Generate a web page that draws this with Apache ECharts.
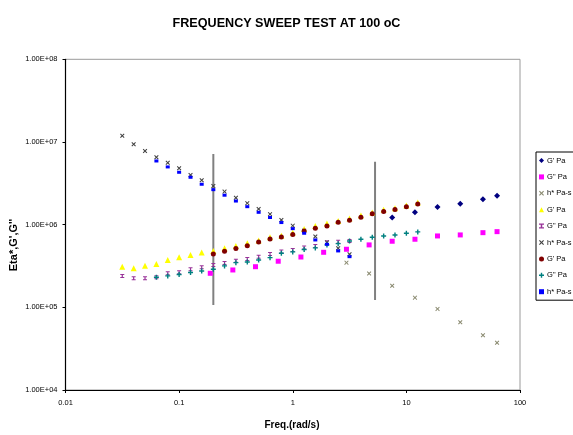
<!DOCTYPE html>
<html><head><meta charset="utf-8">
<script src="https://cdn.jsdelivr.net/npm/echarts@6/dist/echarts.min.js"></script>
<style>html,body{margin:0;padding:0;background:#fff}#c{width:573px;height:435px}</style>
</head><body><div id="c"></div>
<script>
// ---- data ----
const freqSet1 = [0.188,0.297,0.47,0.745,1.18,1.87,2.97,4.70,7.5,11.9,18.8,29.8,47.2,62.8];
const gPrime1 = [null,null,null,null,null,null,null,null,1.22e6,1.41e6,1.64e6,1.79e6,2.03e6,2.24e6];
const gDouble1 = [2.58e5,2.83e5,3.10e5,3.61e5,4.06e5,4.63e5,5.04e5,5.69e5,6.30e5,6.66e5,7.30e5,7.51e5,8.0e5,8.23e5];
const eta1 = [null,null,null,null,null,null,3.47e5,2.56e5,1.82e5,1.31e5,9.57e4,6.61e4,4.60e4,3.72e4];

const freqGrid = [0.0316,0.0398,0.0501,0.0631,0.0794,0.1,0.126,0.158,0.2,0.251,0.316,0.398,0.501,0.631,0.794,1,1.26,1.58,2,2.51,3.16,3.98,5.01,6.31,7.94,10,12.6];
const gPrime2 = [3.10e5,2.97e5,3.19e5,3.35e5,3.74e5,4.03e5,4.30e5,4.59e5,4.81e5,5.19e5,5.53e5,5.96e5,6.41e5,7.04e5,7.36e5,8.0e5,8.87e5,9.64e5,1.03e6,1.11e6,1.19e6,1.29e6,1.40e6,1.51e6,1.58e6,1.71e6,1.85e6];
const gDouble2 = [2.40e5,2.25e5,2.25e5,2.31e5,2.58e5,2.66e5,2.89e5,3.05e5,3.26e5,3.44e5,3.67e5,3.85e5,4.10e5,4.42e5,4.72e5,4.94e5,5.30e5,5.53e5,6.12e5,6.23e5,6.35e5,null,null,null,null,null,null];
const eta2 = [1.19e7,9.38e6,7.78e6,6.53e6,5.62e6,4.81e6,3.99e6,3.44e6,2.94e6,2.51e6,2.12e6,1.82e6,1.55e6,1.34e6,1.14e6,9.73e5,8.46e5,7.2e5,6.1e5,5.19e5,4.39e5,null,null,null,null,null,null];

const gPrime3 = [null,null,null,null,null,null,null,null,4.42e5,4.78e5,5.13e5,5.57e5,6.18e5,6.72e5,7.10e5,7.59e5,8.39e5,9.04e5,9.64e5,1.07e6,1.13e6,1.23e6,1.35e6,1.44e6,1.53e6,1.65e6,1.78e6];
const gDouble3 = [null,null,null,2.31e5,2.40e5,2.50e5,2.64e5,2.75e5,2.89e5,3.17e5,3.47e5,3.54e5,3.74e5,3.99e5,4.51e5,4.68e5,5.01e5,5.23e5,5.69e5,5.89e5,6.35e5,6.66e5,7.04e5,7.30e5,7.50e5,7.87e5,8.17e5];
const eta3 = [null,null,null,5.89e6,4.99e6,4.30e6,3.74e6,3.08e6,2.65e6,2.27e6,1.93e6,1.65e6,1.41e6,1.22e6,1.06e6,8.95e5,7.87e5,6.53e5,5.79e5,4.81e5,4.10e5,null,null,null,null,null,null];

const refLineFreq = [0.2, 5.3];
const refLineLow = [1.07e5, 1.23e5];
const refLineHigh = [7.16e6, 5.78e6];

const legendLabels = ["G' Pa","G'' Pa","h* Pa-s","G' Pa","G'' Pa","h* Pa-s","G' Pa","G'' Pa","h* Pa-s"];
const xTickLabels = {"-2":"0.01","-1":"0.1","0":"1","1":"10","2":"100"};
const yTickLabels = {"4":"1.00E+04","5":"1.00E+05","6":"1.00E+06","7":"1.00E+07","8":"1.00E+08"};

// ---- build ----
function pairs(f, v){ const out=[]; for(let i=0;i<f.length;i++){ if(v[i]!=null) out.push([f[i],v[i]]);} return out; }
const X_PATH = 'path://M0,1.6L1.6,0L5,3.4L8.4,0L10,1.6L6.6,5L10,8.4L8.4,10L5,6.6L1.6,10L0,8.4L3.4,5Z';
const I_PATH = 'path://M0,0H10V2.5H6.5V7.5H10V10H0V7.5H3.5V2.5H0Z';
const PLUS_PATH = 'path://M3.6,0H6.4V3.6H10V6.4H6.4V10H3.6V6.4H0V3.6H3.6Z';

const defs = [
  {v:gPrime1, f:freqSet1, sym:'diamond', size:6, color:'#000080'},
  {v:gDouble1, f:freqSet1, sym:'rect', size:5, color:'#FF00FF'},
  {v:eta1, f:freqSet1, sym:X_PATH, size:4.5, color:'#8a8a70'},
  {v:gPrime2, f:freqGrid, sym:'triangle', size:6, color:'#FFFF00'},
  {v:gDouble2, f:freqGrid, sym:I_PATH, size:4, color:'#993399'},
  {v:eta2, f:freqGrid, sym:X_PATH, size:4.5, color:'#404040'},
  {v:gPrime3, f:freqGrid, sym:'circle', size:5, color:'#800000'},
  {v:gDouble3, f:freqGrid, sym:PLUS_PATH, size:5, color:'#008080'},
  {v:eta3, f:freqGrid, sym:'rect', size:[4,3], color:'#0000FF'}
];
const series = defs.map((d,i)=>({
  name:'s'+i, type:'scatter', data:pairs(d.f,d.v), symbol:d.sym, symbolSize:d.size,
  itemStyle:{color:d.color, opacity:1}, silent:true, animation:false
}));
for(let i=0;i<refLineFreq.length;i++){
  series.push({name:'line'+i, type:'line', data:[[refLineFreq[i],refLineLow[i]],[refLineFreq[i],refLineHigh[i]]],
    showSymbol:false, symbol:'none', lineStyle:{color:'#808080', width:2}, silent:true, animation:false, z:1});
}

const chart = echarts.init(document.getElementById('c'), null, {renderer:'canvas'});
chart.setOption({
  animation:false,
  backgroundColor:'#fff',
  title:{text:'FREQUENCY SWEEP TEST AT 100 oC', left:'center', top:12,
    textStyle:{fontFamily:'Liberation Sans, Arial', fontWeight:'bold', fontSize:12.6, color:'#000'}},
  grid:{left:65.5, right:53, top:59.3, bottom:45, show:true, borderColor:'#9a9a9a', borderWidth:1, backgroundColor:'transparent'},
  xAxis:{type:'log', logBase:10, min:0.01, max:100,
    axisLine:{lineStyle:{color:'#000', width:1.2}},
    axisTick:{show:true, length:3, lineStyle:{color:'#000'}},
    minorTick:{show:false}, splitLine:{show:false},
    axisLabel:{margin:9, fontFamily:'Liberation Sans, Arial', fontSize:7.5, color:'#000',
      formatter:(v)=>xTickLabels[String(Math.round(Math.log10(v)))]||''}},
  yAxis:{type:'log', logBase:10, min:1e4, max:1e8,
    axisLine:{lineStyle:{color:'#000', width:1.2}},
    axisTick:{show:true, length:3, lineStyle:{color:'#000'}},
    minorTick:{show:false}, splitLine:{show:false},
    axisLabel:{margin:8, fontFamily:'Liberation Sans, Arial', fontSize:7.5, color:'#000',
      formatter:(v)=>yTickLabels[String(Math.round(Math.log10(v)))]||''}},
  legend:{orient:'vertical', left:536, top:152, padding:[4,3,4,3], itemGap:7.4,
    itemWidth:5, itemHeight:5, borderColor:'#000', borderWidth:1,
    data:defs.map((d,i)=>'s'+i),
    formatter:(n)=>legendLabels[parseInt(n.slice(1))],
    textStyle:{fontFamily:'Liberation Sans, Arial', fontSize:7.5, color:'#000', padding:[0,0,0,-2], lineHeight:9}},
  graphic:[
    {type:'text', x:14, y:245, rotation:Math.PI/2,
      style:{text:"Eta*,G',G''", font:'bold 11px "Liberation Sans", Arial', fill:'#000', textAlign:'center', textVerticalAlign:'middle'}},
    {type:'text', x:292, y:425,
      style:{text:'Freq.(rad/s)', font:'bold 10px "Liberation Sans", Arial', fill:'#000', textAlign:'center', textVerticalAlign:'middle'}}
  ],
  series:series
});
</script></body></html>
